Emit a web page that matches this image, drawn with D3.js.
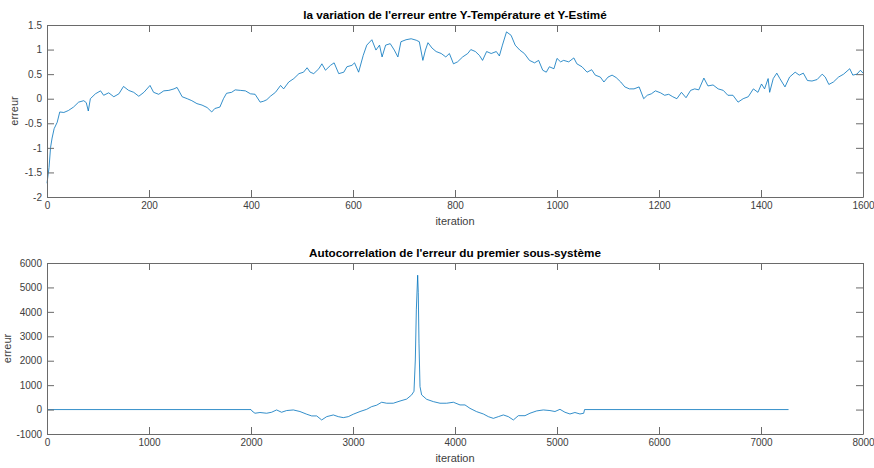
<!DOCTYPE html>
<html>
<head>
<meta charset="utf-8">
<script src="https://cdn.jsdelivr.net/npm/d3@7"></script>
<style>
  body { margin: 0; background: #fff; }
  text { font-family: "Liberation Sans", Arial, sans-serif; }
</style>
</head>
<body>
<div id="chart"></div>
<script>
// erreur (top subplot)
var topIter = [0,4,7,10,14,20,25,33,42,52,62,72,77,81,85,95,105,111,121,131,141,150,160,170,180,190,202,209,219,229,239,249,255,265,275,284,294,304,314,323,329,339,346,352,362,369,379,389,399,408,418,425,431,438,448,458,464,474,484,494,503,510,516,523,533,539,546,556,563,572,582,588,598,603,611,620,627,637,645,652,657,664,673,681,688,694,704,714,724,730,737,742,747,755,763,773,782,789,797,805,815,825,831,840,848,854,862,871,881,887,893,901,910,918,927,936,946,956,964,972,979,985,994,1000,1007,1013,1023,1033,1039,1049,1059,1068,1075,1085,1092,1100,1108,1116,1125,1133,1142,1151,1161,1170,1177,1185,1193,1203,1211,1219,1227,1235,1244,1253,1262,1270,1278,1288,1296,1306,1316,1326,1335,1345,1355,1365,1375,1385,1394,1401,1407,1414,1417,1424,1431,1437,1447,1456,1467,1475,1483,1491,1500,1510,1520,1526,1533,1542,1552,1562,1574,1580,1588,1595,1600];
var topErr = [-1.72,-1.4,-0.99,-0.8,-0.61,-0.48,-0.27,-0.28,-0.24,-0.17,-0.07,-0.04,-0.08,-0.25,0,0.1,0.16,0.07,0.12,0.04,0.1,0.25,0.17,0.13,0.05,0.13,0.27,0.13,0.09,0.16,0.17,0.2,0.23,0.04,0,-0.04,-0.1,-0.13,-0.18,-0.27,-0.2,-0.17,0,0.11,0.13,0.18,0.17,0.16,0.1,0.09,-0.07,-0.05,-0.02,0.05,0.13,0.27,0.2,0.34,0.41,0.51,0.54,0.63,0.54,0.51,0.61,0.71,0.58,0.68,0.73,0.51,0.54,0.65,0.68,0.73,0.54,0.88,1.09,1.2,0.99,1.09,0.85,1.09,1.12,0.99,0.85,1.16,1.2,1.22,1.19,1.16,0.78,0.99,1.14,1.03,0.96,0.92,0.85,0.92,0.71,0.75,0.85,0.92,1.0,0.96,0.88,0.78,0.96,0.92,0.96,0.87,1.09,1.36,1.29,1.09,0.99,0.92,0.78,0.73,0.78,0.58,0.54,0.65,0.61,0.82,0.75,0.78,0.75,0.83,0.71,0.65,0.54,0.59,0.48,0.44,0.34,0.44,0.48,0.43,0.34,0.24,0.2,0.2,0.24,0,0.07,0.1,0.16,0.12,0.07,0.09,0.04,0,0.13,0.02,0.17,0.2,0.18,0.42,0.26,0.28,0.2,0.17,0.07,0.07,-0.07,0,0.04,0.2,0.13,0.3,0.2,0.41,0.13,0.41,0.52,0.41,0.24,0.44,0.54,0.48,0.52,0.37,0.36,0.39,0.5,0.44,0.29,0.34,0.44,0.5,0.61,0.48,0.5,0.58,0.52];

// autocorrelation (bottom subplot)
var acIter = [0,2000,2010,2039,2088,2153,2202,2251,2300,2349,2415,2480,2546,2595,2644,2693,2742,2807,2856,2905,2954,3003,3069,3134,3183,3232,3281,3330,3395,3461,3526,3575,3598,3611,3621,3634,3640,3647,3657,3673,3722,3788,3853,3918,3984,4049,4098,4147,4212,4278,4327,4376,4425,4474,4523,4572,4621,4686,4735,4801,4866,4931,4980,5029,5078,5127,5176,5225,5262,5270,7270];
var acVal = [0,0,-60,-150,-120,-150,-110,-15,-110,-40,-15,-80,-190,-260,-260,-425,-290,-220,-290,-330,-290,-190,-80,10,120,180,300,260,260,350,430,600,750,2030,4080,5500,4800,2720,940,600,420,325,260,260,300,190,190,50,-85,-180,-290,-360,-290,-220,-290,-425,-250,-250,-150,-55,-15,-40,-80,10,-110,-180,-120,-180,-150,0,0];

var topTicksX = d3.range(0, 1601, 200);
var topTicksY = [-2,-1.5,-1,-0.5,0,0.5,1,1.5];
var botTicksX = d3.range(0, 8001, 1000);
var botTicksY = d3.range(-1000, 6001, 1000);

var W = 874, H = 468;
var svg = d3.select("#chart").append("svg")
    .attr("width", W).attr("height", H)
    .style("background", "#fff");

var lineColor = "#0072BD";
var axisColor = "#6a6a6a";
var textColor = "#404040";
var tickLen = 7;

function subplot(opt) {
  var x = d3.scaleLinear().domain(opt.xDomain).range([opt.left, opt.right]);
  var y = d3.scaleLinear().domain(opt.yDomain).range([opt.bottom, opt.top]);
  var g = svg.append("g");

  // data line
  g.append("path")
    .datum(d3.range(opt.xs.length))
    .attr("fill", "none")
    .attr("stroke", lineColor)
    .attr("stroke-width", 0.8)
    .attr("d", d3.line()
        .x(function(i) { return x(opt.xs[i]); })
        .y(function(i) { return y(opt.ys[i]); }));

  // axes (ticks inward, box on all sides)
  function styleAxis(sel) {
    sel.select(".domain").attr("stroke", axisColor);
    sel.selectAll(".tick line").attr("stroke", axisColor);
    sel.selectAll(".tick text").attr("fill", textColor)
      .style("font-size", "10px")
      .style("font-family", "Liberation Sans, Arial, sans-serif");
  }
  g.append("g").attr("transform", "translate(0," + opt.bottom + ")")
    .call(d3.axisBottom(x).tickValues(opt.xTicks).tickSizeInner(-tickLen).tickSizeOuter(0).tickPadding(5).tickFormat(d3.format("d")))
    .call(styleAxis);
  g.append("g").attr("transform", "translate(0," + opt.top + ")")
    .call(d3.axisTop(x).tickValues(opt.xTicks).tickSizeInner(-tickLen).tickSizeOuter(0).tickFormat(""))
    .call(styleAxis);
  g.append("g").attr("transform", "translate(" + opt.left + ",0)")
    .call(d3.axisLeft(y).tickValues(opt.yTicks).tickSizeInner(-tickLen).tickSizeOuter(0).tickPadding(5).tickFormat(function(d) { return String(d); }))
    .call(styleAxis);
  g.append("g").attr("transform", "translate(" + opt.right + ",0)")
    .call(d3.axisRight(y).tickValues(opt.yTicks).tickSizeInner(-tickLen).tickSizeOuter(0).tickFormat(""))
    .call(styleAxis);

  // title and labels
  var cx = (opt.left + opt.right) / 2;
  g.append("text").attr("x", cx).attr("y", opt.top - 6)
    .attr("text-anchor", "middle").attr("fill", "#000")
    .style("font-size", "11.7px").style("font-weight", "bold")
    .text(opt.title);
  g.append("text").attr("x", cx).attr("y", opt.bottom + 28)
    .attr("text-anchor", "middle").attr("fill", textColor)
    .style("font-size", "11px")
    .text("iteration");
  g.append("text")
    .attr("transform", "translate(" + opt.yLabelX + "," + ((opt.top + opt.bottom) / 2) + ") rotate(-90)")
    .attr("text-anchor", "middle").attr("fill", textColor)
    .style("font-size", "11px")
    .text("erreur");
}

subplot({
  left: 47, right: 863, top: 25, bottom: 197,
  xDomain: [0, 1600], yDomain: [-2, 1.5],
  xTicks: topTicksX, yTicks: topTicksY,
  xs: topIter, ys: topErr,
  yLabelX: 18,
  title: "la variation de l'erreur entre Y-Température et Y-Estimé"
});

subplot({
  left: 47, right: 863, top: 263, bottom: 434,
  xDomain: [0, 8000], yDomain: [-1000, 6000],
  xTicks: botTicksX, yTicks: botTicksY,
  xs: acIter, ys: acVal,
  yLabelX: 11,
  title: "Autocorrelation de l'erreur du premier sous-système"
});
</script>
</body>
</html>
